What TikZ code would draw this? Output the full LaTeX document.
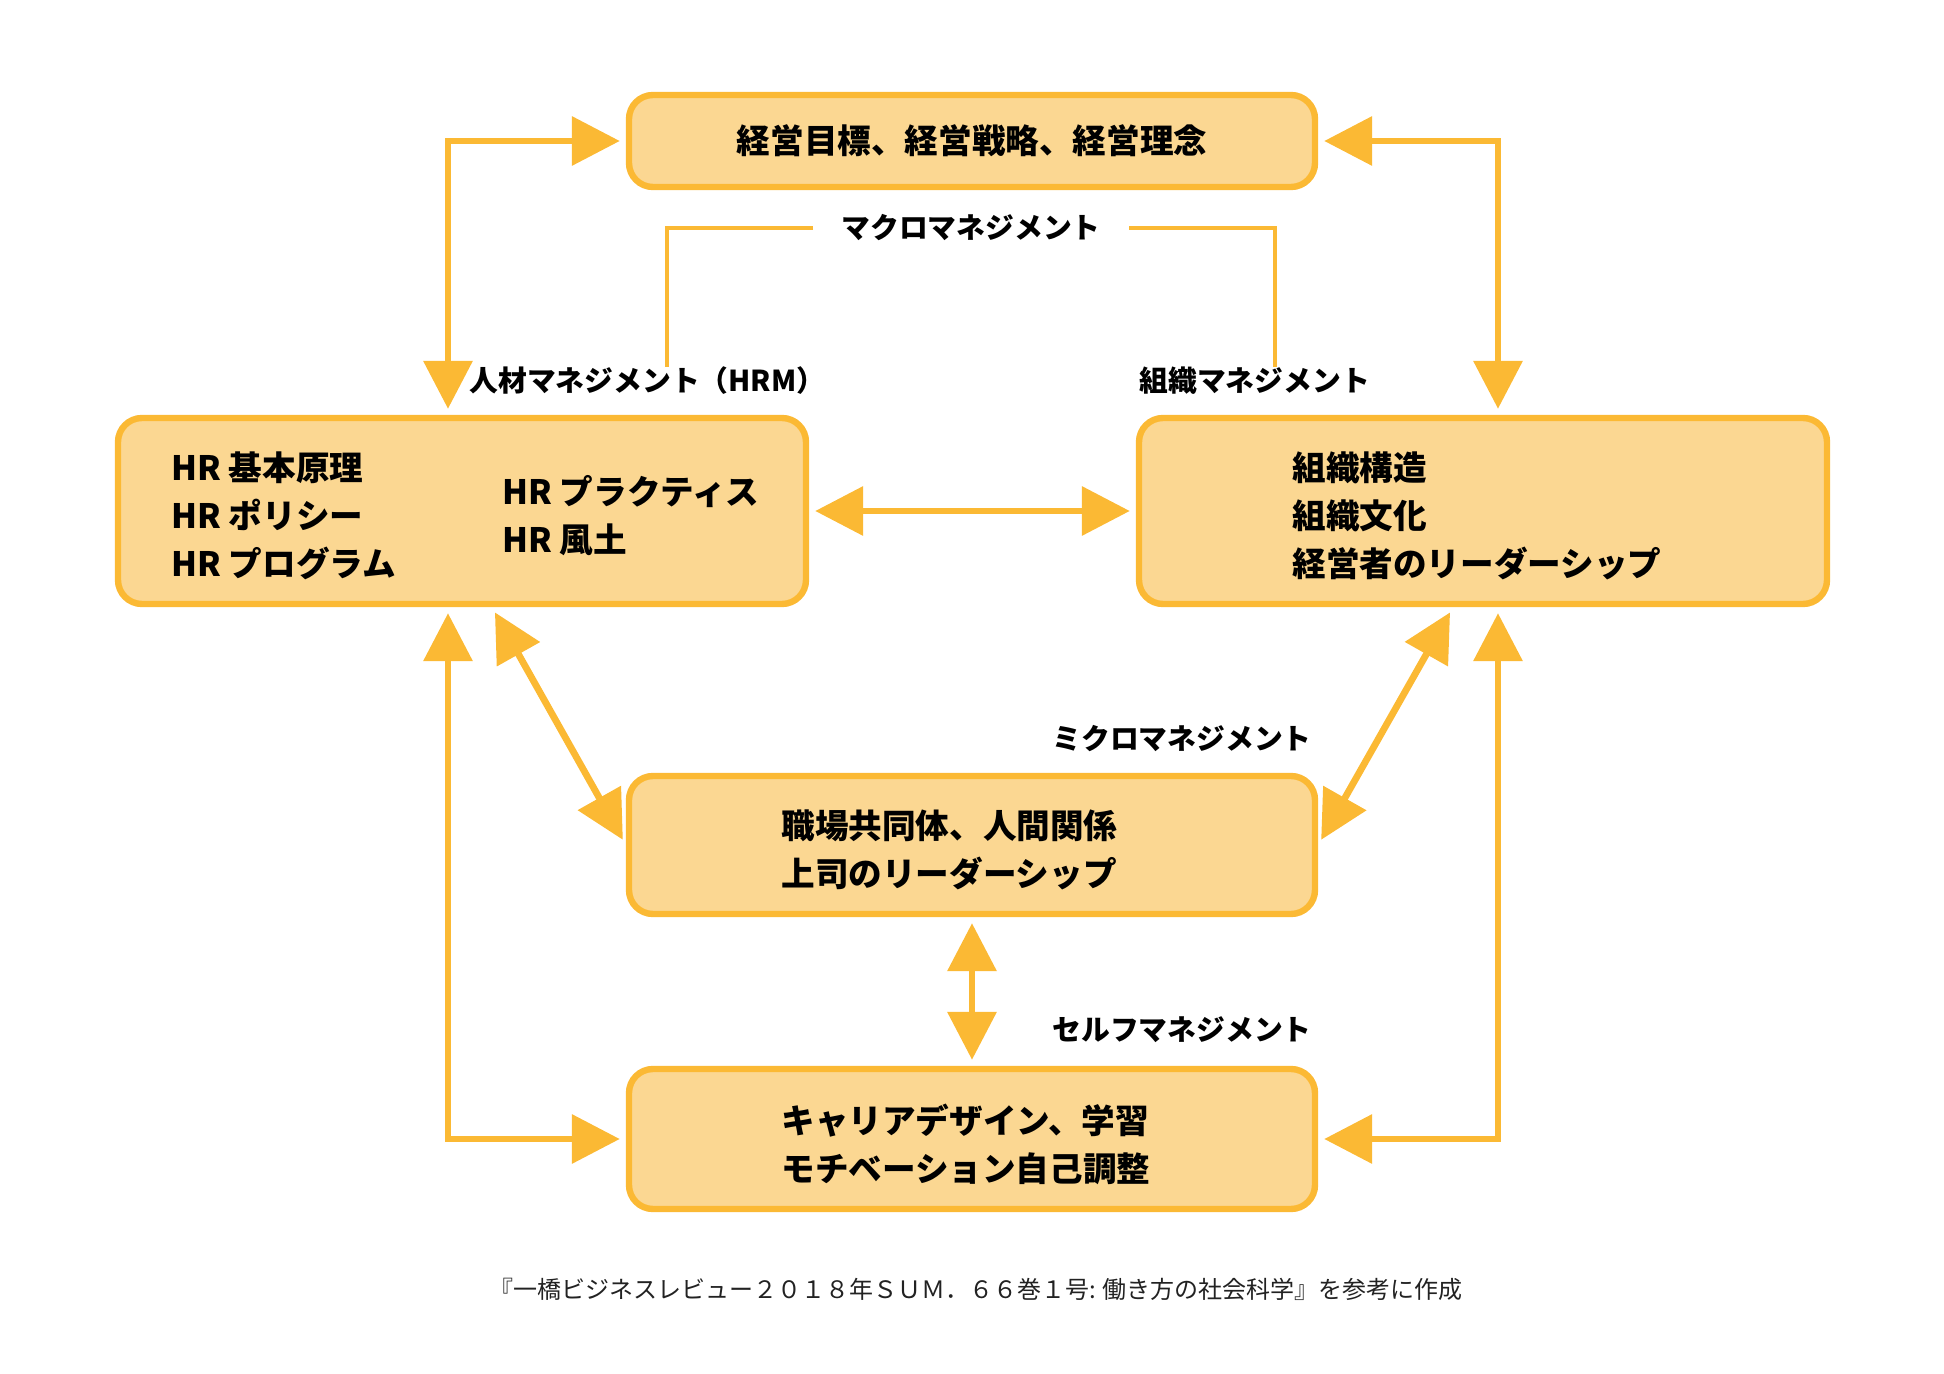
\documentclass[tikz,border=0pt]{standalone}
\usepackage{fontspec}
\usetikzlibrary{arrows.meta}
\setmainfont{Noto Sans CJK JP}
\definecolor{boxfill}{HTML}{FBD792}
\definecolor{boxline}{HTML}{FBB934}
\definecolor{captionink}{HTML}{222222}

\begin{document}
\begin{tikzpicture}[
  x=0.5pt,
  y=-0.5pt,
  every node/.style={font=\fontsize{16.8}{24}\selectfont\bfseries, black},
  mgmtbox/.style={draw=boxline, fill=boxfill, line width=3.2pt,
                  rounded corners=12pt, rectangle, inner sep=0pt},
  boxtext/.style={anchor=west, align=left, inner sep=0pt},
  lab/.style={font=\fontsize{14.4}{16}\selectfont\bfseries, inner sep=0pt},
  link/.style={boxline, line width=3.4pt,
               {Triangle[length=24pt, width=24pt]}-{Triangle[length=24pt, width=24pt]},
               shorten <=3pt, shorten >=3pt},
  bracket/.style={boxline, line width=1.9pt}
]
  \useasboundingbox (0,0) rectangle (1944,1374);

  % ---- boxes ----
  \node[mgmtbox, minimum width=343pt, minimum height=46pt] (top)   at (972,141)   {};
  \node[mgmtbox, minimum width=344pt, minimum height=93pt] (hrm)   at (462,511)   {};
  \node[mgmtbox, minimum width=344pt, minimum height=93pt] (org)   at (1483,511)  {};
  \node[mgmtbox, minimum width=343pt, minimum height=69pt] (micro) at (972,845)   {};
  \node[mgmtbox, minimum width=343pt, minimum height=70pt] (self)  at (972,1139)  {};

  % ---- box texts ----
  \node[inner sep=0pt] (toptext) at (top.center) {経営目標、経営戦略、経営理念};
  \node[boxtext] (hrmleft)  at (171,516) {HR 基本原理\\HR ポリシー\\HR プログラム};
  \node[boxtext] (hrmright) at (502,516) {HR プラクティス\\HR 風土};
  \node[boxtext] (orgtext)  at (1292,516) {組織構造\\組織文化\\経営者のリーダーシップ};
  \node[boxtext] (microtext) at (781,850) {職場共同体、人間関係\\上司のリーダーシップ};
  \node[boxtext] (selftext)  at (781,1144) {キャリアデザイン、学習\\モチベーション自己調整};

  % ---- labels ----
  \node[lab, anchor=west] (hrmlab)   at (469,381)  {人材マネジメント（HRM）};
  \node[lab, anchor=west] (orglab)   at (1139,381) {組織マネジメント};
  \node[lab, inner xsep=14pt] (macro) at (971,228) {マクロマネジメント};
  \node[lab, anchor=east] (microlab) at (1312,739) {ミクロマネジメント};
  \node[lab, anchor=east] (selflab)  at (1312,1030) {セルフマネジメント};

  % ---- macro bracket ----
  \draw[bracket] (macro.west) -| (hrmlab.north -| 667,0);
  \draw[bracket] (macro.east) -| (orglab.north -| 1275,0);

  % ---- arrows ----
  \draw[link] (top.west) -| (hrm.north -| 448,0);
  \draw[link] (top.east) -| (org.north -| 1498,0);
  \draw[link] (hrm.east) -- (org.west);
  \draw[link] (hrm.south -| 448,0) |- (self.west);
  \draw[link] (org.south -| 1498,0) |- (self.east);
  \draw[link] (hrm.south -| 492,0) -- (micro.west);
  \draw[link] (org.south -| 1453,0) -- (micro.east);
  \draw[link] (micro.south) -- (self.north);

  % ---- source ----
  \node[font=\fontsize{12}{14}\selectfont, captionink, inner sep=0pt] (source) at (976,1289)
    {『一橋ビジネスレビュー２０１８年ＳＵＭ．６６巻１号: 働き方の社会科学』を参考に作成};
\end{tikzpicture}
\end{document}
